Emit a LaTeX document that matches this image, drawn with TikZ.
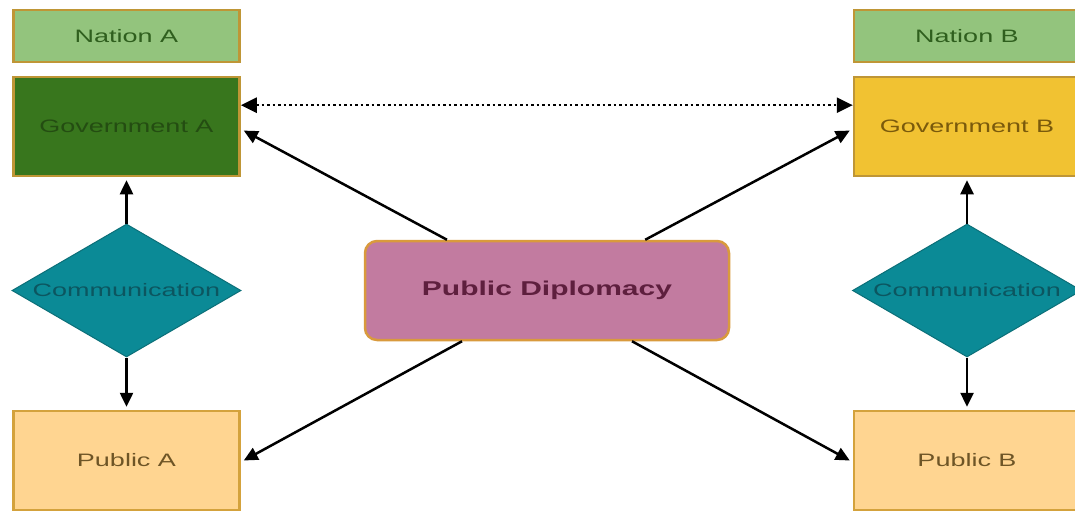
\documentclass[tikz,border=0pt]{standalone}
\usepackage{fontspec}
\setmainfont{Liberation Sans}[FakeStretch=1.5]
\usetikzlibrary{shapes.geometric,arrows.meta,calc}
\definecolor{natfill}{HTML}{93C47D}
\definecolor{nattext}{HTML}{2F5F1E}
\definecolor{boxline}{HTML}{BF9636}
\definecolor{gafill}{HTML}{38761D}
\definecolor{gatext}{HTML}{244D12}
\definecolor{gbfill}{HTML}{F1C232}
\definecolor{gbtext}{HTML}{7A5A0C}
\definecolor{commfill}{HTML}{0B8A96}
\definecolor{commline}{HTML}{0B6F78}
\definecolor{commtext}{HTML}{0C5660}
\definecolor{pubfill}{HTML}{FFD591}
\definecolor{publine}{HTML}{D4A23C}
\definecolor{pubtext}{HTML}{6E5526}
\definecolor{pdfill}{HTML}{C27BA0}
\definecolor{pdline}{HTML}{D99A3D}
\definecolor{pdtext}{HTML}{5E1F3E}
\begin{document}
\begin{tikzpicture}[x=1pt,y=-1pt,
  box/.style={rectangle,draw=boxline,line width=2.5pt,minimum width=226pt,inner sep=0pt,
    font=\fontsize{18}{21}\selectfont},
  comm/.style={diamond,draw=commline,fill=commfill,line width=1pt,aspect=1.72,
    minimum width=229pt,minimum height=133pt,inner sep=0pt,text=commtext,
    font=\fontsize{18}{21}\selectfont},
  arr/.style={-{Triangle[length=14pt,width=13pt]},line width=2.5pt,black},
  darr/.style={{Triangle[length=16pt,width=15pt]}-{Triangle[length=16pt,width=15pt]},line width=2.5pt,dash pattern=on 2.5pt off 3pt,black}]
\useasboundingbox (0,0) rectangle (1075,511);
\clip (0,0) rectangle (1075,511);
\fill[white] (0,0) rectangle (1075,511);
% Nations
\node[box,fill=natfill,text=nattext,minimum height=52pt] (na) at (126.5,36) {Nation A};
\node[box,fill=natfill,text=nattext,minimum height=52pt] (nb) at (967,36) {Nation B};
% Governments
\node[box,fill=gafill,text=gatext,minimum height=99pt] (ga) at (126.5,126.5) {Government A};
\node[box,fill=gbfill,text=gbtext,minimum height=99pt] (gb) at (967,126.5) {Government B};
% Communication
\node[comm] (ca) at (126.5,290.5) {Communication};
\node[comm] (cb) at (967,290.5) {Communication};
% Publics
\node[box,draw=publine,fill=pubfill,text=pubtext,minimum height=99pt] (pa) at (126.5,460.5) {Public A};
\node[box,draw=publine,fill=pubfill,text=pubtext,minimum height=99pt] (pb) at (967,460.5) {Public B};
% Public Diplomacy
\node[rectangle,rounded corners=12pt,draw=pdline,fill=pdfill,line width=2.5pt,
  minimum width=364pt,minimum height=99pt,text=pdtext,
  font=\fontsize{20}{23}\selectfont\bfseries] (pd) at (547,290.5) {Public Diplomacy};
% connectors
\draw[darr] ($(ga.north east)!0.29!(ga.south east)$) -- ($(gb.north west)!0.29!(gb.south west)$);
\draw[arr] ($(pd.north west)!0.227!(pd.north east)$) -- ([xshift=3pt]$(ga.north east)!0.54!(ga.south east)$);
\draw[arr] ($(pd.north west)!0.768!(pd.north east)$) -- ([xshift=-3pt]$(gb.north west)!0.54!(gb.south west)$);
\draw[arr] ($(pd.south west)!0.268!(pd.south east)$) -- ([xshift=3pt]pa.east);
\draw[arr] ($(pd.south west)!0.732!(pd.south east)$) -- ([xshift=-3pt]pb.west);
\draw[arr] (ca.north) -- ([yshift=-3pt]ga.south);
\draw[arr] (ca.south) -- ([yshift=3pt]pa.north);
\draw[arr] (cb.north) -- ([yshift=-3pt]gb.south);
\draw[arr] (cb.south) -- ([yshift=3pt]pb.north);
\end{tikzpicture}
\end{document}
